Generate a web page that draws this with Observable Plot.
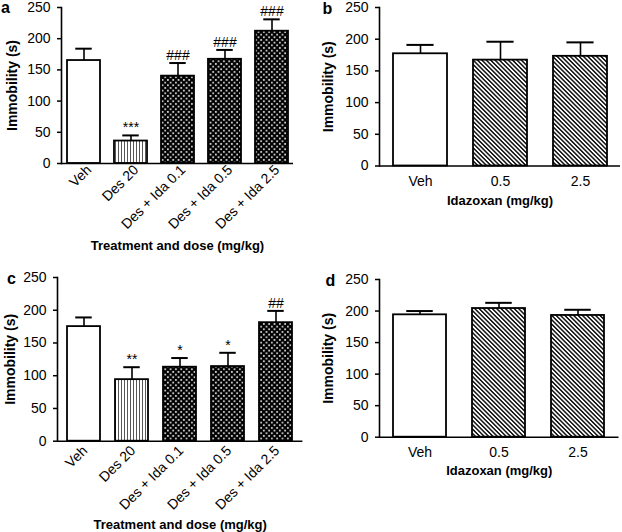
<!DOCTYPE html>
<html>
<head>
<meta charset="utf-8">
<script src="https://cdn.jsdelivr.net/npm/d3@7"></script>
<script src="https://cdn.jsdelivr.net/npm/@observablehq/plot@0.6"></script>
<style>
  html, body { margin: 0; padding: 0; background: #fff; }
  #chart { position: relative; width: 622px; height: 532px; background: #fff; overflow: hidden; }
  #chart > svg.panel { position: absolute; }
</style>
</head>
<body>
<svg width="0" height="0" style="position:absolute">
  <defs>
    <pattern id="vlines" patternUnits="userSpaceOnUse" width="3" height="3">
      <rect width="3" height="3" fill="#fff"></rect>
      <line x1="1.5" y1="0" x2="1.5" y2="3" stroke="#444" stroke-width="0.9"></line>
    </pattern>
    <pattern id="xhatch" patternUnits="userSpaceOnUse" width="5.33" height="5.33">
      <rect width="5.33" height="5.33" fill="#fff"></rect>
      <path d="M-1,-1 L6.33,6.33 M6.33,-1 L-1,6.33" stroke="#000" stroke-width="2.1"></path>
    </pattern>
    <pattern id="dhatch" patternUnits="userSpaceOnUse" width="3.1" height="3.1" patternTransform="rotate(-45)">
      <rect width="3.1" height="3.1" fill="#fff"></rect>
      <line x1="1.55" y1="0" x2="1.55" y2="3.1" stroke="#000" stroke-width="1.4"></line>
    </pattern>
  </defs>
</svg>
<div id="chart"></div>
<script>
// ---- data ----
const yTicks = [0, 50, 100, 150, 200, 250];
const yLabel = "Immobility (s)";

const catsA = ["Veh", "Des 20", "Des + Ida 0.1", "Des + Ida 0.5", "Des + Ida 2.5"];
const meanA = [165, 36, 140, 167, 212];
const semA  = [19, 9, 21, 15, 19];
const sigA  = ["", "***", "###", "###", "###"];
const fillA = ["open", "vlines", "xhatch", "xhatch", "xhatch"];

const catsB = ["Veh", "0.5", "2.5"];
const meanB = [177, 167, 173];
const semB  = [14, 29, 22];
const sigB  = ["", "", ""];
const fillB = ["open", "dhatch", "dhatch"];

const catsC = ["Veh", "Des 20", "Des + Ida 0.1", "Des + Ida 0.5", "Des + Ida 2.5"];
const meanC = [175, 94, 113, 114, 181];
const semC  = [14, 19, 14, 21, 18];
const sigC  = ["", "**", "*", "*", "##"];
const fillC = ["open", "vlines", "xhatch", "xhatch", "xhatch"];

const catsD = ["Veh", "0.5", "2.5"];
const meanD = [194, 204, 193];
const semD  = [6, 9, 9];
const sigD  = ["", "", ""];
const fillD = ["open", "dhatch", "dhatch"];

const xTitleTreat = "Treatment and dose (mg/kg)";
const xTitleIda = "Idazoxan (mg/kg)";

const fillUrl = {open: "#ffffff", vlines: "url(#vlines)", xhatch: "url(#xhatch)", dhatch: "url(#dhatch)"};

function rowsOf(cats, mean, sem, sig, fill) {
  return cats.map((c, i) => ({cat: c, mean: mean[i], top: mean[i] + sem[i], sig: sig[i], fill: fillUrl[fill[i]]}));
}

function panel(o) {
  const rows = rowsOf(o.cats, o.mean, o.sem, o.sig, o.fill);
  const innerW = o.width - o.ml - o.mr;
  const step = innerW / (o.cats.length - o.pi + 2 * o.po);
  const bw = step * (1 - o.pi);
  const cap = bw / 4;
  const svg = Plot.plot({
    width: o.width, height: o.height,
    marginLeft: o.ml, marginRight: o.mr, marginTop: o.mt, marginBottom: o.mb,
    style: {fontFamily: "'Liberation Sans', Arial, sans-serif", fontSize: "14px", background: "transparent", overflow: "visible", color: "#000"},
    x: {domain: o.cats, paddingInner: o.pi, paddingOuter: o.po},
    y: {domain: [0, 250]},
    color: {type: "identity"},
    marks: [
      Plot.barY(rows, {x: "cat", y: "mean", fill: "fill", stroke: "#000", strokeWidth: 1.8}),
      Plot.ruleX(rows, {x: "cat", y1: "mean", y2: "top", stroke: "#000", strokeWidth: 1.6}),
      Plot.tickY(rows, {x: "cat", y: "top", insetLeft: cap, insetRight: cap, stroke: "#000", strokeWidth: 2}),
      Plot.text(rows, {x: "cat", y: "top", text: "sig", lineAnchor: "bottom", dy: -3, fontSize: 14}),
      Plot.ruleY([0], {stroke: "#000", strokeWidth: 1.6}),
      Plot.frame({anchor: "left", stroke: "#000", strokeWidth: 1.6}),
      Plot.axisY({ticks: yTicks, tickSize: 4, tickPadding: 7, strokeWidth: 1.5, fontSize: 14, label: null}),
      Plot.axisX({tickSize: 0, tickRotate: o.rotate, tickPadding: o.tickPad, dx: o.tdx, fontSize: 14, label: null}),
      Plot.text([o.letter], {frameAnchor: "top-left", dx: o.ldx, dy: o.ldy, text: d => d, fontWeight: "bold", fontSize: 16, textAnchor: "middle", lineAnchor: "middle"}),
      Plot.text([o.xTitle], {frameAnchor: "bottom", dy: o.xdy, text: d => d, fontWeight: "bold", fontSize: 13, textAnchor: "middle", lineAnchor: "middle"}),
      Plot.text([yLabel], {frameAnchor: "left", dx: o.ydx, text: d => d, rotate: -90, fontWeight: "bold", fontSize: 14, textAnchor: "middle", lineAnchor: "middle"})
    ]
  });
  svg.classList.add("panel");
  svg.style.left = o.left + "px";
  svg.style.top = o.top + "px";
  document.getElementById("chart").appendChild(svg);
}

panel({cats: catsA, mean: meanA, sem: semA, sig: sigA, fill: fillA, left: 0, top: 0,
  width: 310, height: 260, ml: 61, mr: 17, mt: 7, mb: 97, pi: 0.3, po: 0.106,
  rotate: -45, tickPad: 4, tdx: 5, letter: "a", ldx: -56, ldy: 0, xTitle: xTitleTreat, xdy: 82, ydx: -49});
panel({cats: catsB, mean: meanB, sem: semB, sig: sigB, fill: fillB, left: 310, top: 0,
  width: 312, height: 260, ml: 69, mr: 2, mt: 7, mb: 94.5, pi: 0.33, po: 0.168,
  rotate: 0, tickPad: 10, tdx: 0, letter: "b", ldx: -52, ldy: 1, xTitle: xTitleIda, xdy: 34.5, ydx: -51});
panel({cats: catsC, mean: meanC, sem: semC, sig: sigC, fill: fillC, left: 0, top: 260,
  width: 310, height: 272, ml: 57, mr: 7.6, mt: 17, mb: 91.3, pi: 0.32, po: 0.185,
  rotate: -45, tickPad: 7, tdx: 1, letter: "c", ldx: -46, ldy: 1.5, xTitle: xTitleTreat, xdy: 83.5, ydx: -47});
panel({cats: catsD, mean: meanD, sem: semD, sig: sigD, fill: fillD, left: 310, top: 260,
  width: 312, height: 272, ml: 69, mr: 3.5, mt: 19, mb: 95.3, pi: 0.335, po: 0.17,
  rotate: 0, tickPad: 10, tdx: 0, letter: "d", ldx: -49, ldy: 1, xTitle: xTitleIda, xdy: 34, ydx: -51});
</script>
</body>
</html>
